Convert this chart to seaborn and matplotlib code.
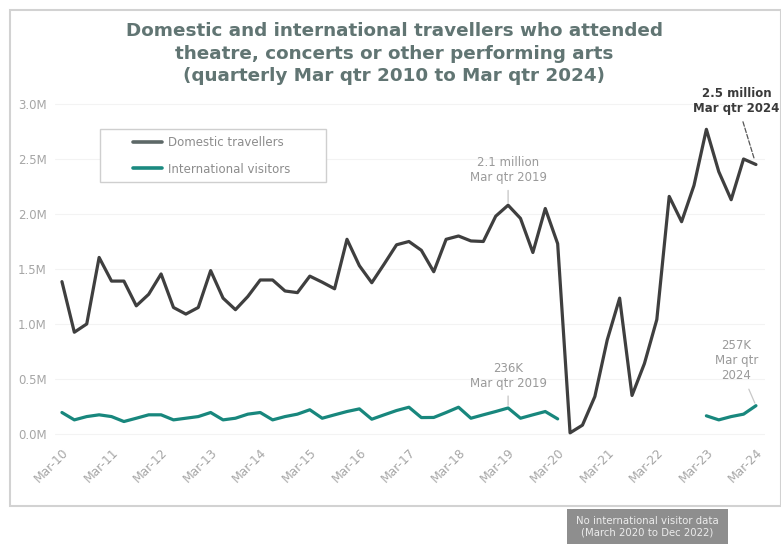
import numpy as np
import pandas as pd
import matplotlib
matplotlib.use("Agg")
import matplotlib.pyplot as plt
from matplotlib.patches import Rectangle
from matplotlib.lines import Line2D
import seaborn as sns

# ---------------- data ----------------
tick_labels = ["Mar-10", "Mar-11", "Mar-12", "Mar-13", "Mar-14", "Mar-15", "Mar-16",
               "Mar-17", "Mar-18", "Mar-19", "Mar-20", "Mar-21", "Mar-22", "Mar-23", "Mar-24"]

domestic = [1.385, 0.925, 1.00, 1.605,
            1.39, 1.39, 1.165, 1.27,
            1.455, 1.15, 1.09, 1.15,
            1.485, 1.235, 1.13, 1.25,
            1.40, 1.40, 1.30, 1.285,
            1.435, 1.38, 1.32, 1.77,
            1.53, 1.375, 1.545, 1.72,
            1.75, 1.67, 1.475, 1.77,
            1.80, 1.755, 1.75, 1.98,
            2.08, 1.96, 1.65, 2.05,
            1.73, 0.01, 0.08, 0.34,
            0.855, 1.235, 0.35, 0.64,
            1.04, 2.16, 1.93, 2.26,
            2.77, 2.385, 2.13, 2.50,
            2.45]

international = [0.195, 0.128, 0.158, 0.174,
                 0.158, 0.113, 0.143, 0.174,
                 0.174, 0.128, 0.143, 0.158,
                 0.195, 0.128, 0.143, 0.180,
                 0.195, 0.128, 0.158, 0.180,
                 0.220, 0.143, 0.174, 0.204,
                 0.228, 0.134, 0.174, 0.213,
                 0.243, 0.149, 0.150, 0.195,
                 0.243, 0.143, 0.174, 0.204,
                 0.236, 0.143, 0.174, 0.204,
                 0.137, None, None, None,
                 None, None, None, None,
                 None, None, None, None,
                 0.165, 0.128, 0.158, 0.180,
                 0.257]

series_names = ["Domestic travellers", "International visitors"]
colors = {"Domestic travellers": "#3f3f3f", "International visitors": "#18877d"}

# ---------------- build table ----------------
rows = []
for name, vals in zip(series_names, [domestic, international]):
    seg = 0
    prev_nan = False
    for i, v in enumerate(vals):
        if v is None:
            prev_nan = True
            continue
        if prev_nan:
            seg += 1
            prev_nan = False
        rows.append({"q": i, "value": v, "series": name, "seg": f"{name}-{seg}"})
df = pd.DataFrame(rows)

# ---------------- figure ----------------
sns.set_theme(style="white")
plt.rcParams["font.family"] = ["DejaVu Sans"]

W, H = 781, 544
fig = plt.figure(figsize=(W / 100, H / 100), dpi=100)
fig.patch.set_facecolor("white")

ax = fig.add_axes([55 / W, 104 / H, 710 / W, 344 / H])
sns.lineplot(data=df, x="q", y="value", hue="series", units="seg", estimator=None,
             palette=colors, linewidth=2.3, ax=ax, legend=False, sort=True)

ax.set_xlim(-0.56, 56.73)
ax.set_ylim(-0.055, 3.073)
ax.set_xticks(np.arange(0, 57, 4))
ax.set_xticklabels(tick_labels, rotation=45, ha="right", rotation_mode="anchor")
ax.set_yticks([0, 0.5, 1.0, 1.5, 2.0, 2.5, 3.0])
ax.set_yticklabels(["0.0M", "0.5M", "1.0M", "1.5M", "2.0M", "2.5M", "3.0M"])
ax.tick_params(axis="x", length=0, pad=4, labelsize=8.8, labelcolor="#a6a6a6")
ax.tick_params(axis="y", length=0, pad=6, labelsize=8.5, labelcolor="#a6a6a6")
ax.set_xlabel("")
ax.set_ylabel("")
for s in ax.spines.values():
    s.set_visible(False)
ax.grid(axis="y", color="#f3f3f3", linewidth=0.8)
ax.set_axisbelow(True)

# legend (frame drawn separately for its wide side padding)
ax.add_patch(Rectangle(((100 - 55) / 710, 1 - (182 - 96) / 344), 226 / 710, 53 / 344,
                       transform=ax.transAxes, fill=True, fc="white", ec="#cfcfcf",
                       lw=1.0, zorder=4))
handles = [Line2D([], [], color="#5d6867", lw=2.6),
           Line2D([], [], color="#1b8a80", lw=2.6)]
leg = ax.legend(handles, series_names, loc="upper left",
                bbox_to_anchor=((133 - 55) / 710, 1 - (136 - 96) / 344),
                frameon=False, fontsize=8.5, handlelength=2.45,
                labelspacing=1.15, borderpad=0, handletextpad=0.5, borderaxespad=0)
leg.set_zorder(5)
for t in leg.get_texts():
    t.set_color("#8c8c8c")

# annotations
grey = "#9a9a9a"
ax.annotate("2.1 million\nMar qtr 2019", xy=(36, domestic[36]), xytext=(0, 15),
            textcoords="offset points", ha="center", va="bottom", fontsize=8.5, color=grey,
            arrowprops=dict(arrowstyle="-", color="#c4c4c4", lw=0.9, shrinkA=2, shrinkB=2))
ax.annotate("236K\nMar qtr 2019", xy=(36, international[36]), xytext=(0, 13),
            textcoords="offset points", ha="center", va="bottom", fontsize=8.5, color=grey,
            arrowprops=dict(arrowstyle="-", color="#c4c4c4", lw=0.9, shrinkA=2, shrinkB=2))
ax.annotate("2.5 million\nMar qtr 2024", xy=(56, domestic[56]), xytext=(-14, 36),
            textcoords="offset points", ha="center", va="bottom", fontsize=8.5,
            color="#3a3a3a", fontweight="bold",
            arrowprops=dict(arrowstyle="-", color="#555555", lw=0.9, ls="--",
                            shrinkA=3, shrinkB=4))
ax.annotate("257K\nMar qtr\n2024", xy=(56, international[56]), xytext=(-14, 17),
            textcoords="offset points", ha="center", va="bottom", fontsize=8.5, color=grey,
            arrowprops=dict(arrowstyle="-", color="#c8c8c8", lw=0.9, shrinkA=3, shrinkB=2))

# title
fig.text(394 / W, 1 - 22 / H,
         "Domestic and international travellers who attended\n"
         "theatre, concerts or other performing arts\n"
         "(quarterly Mar qtr 2010 to Mar qtr 2024)",
         ha="center", va="top", fontsize=13.2, fontweight="bold", color="#617573",
         linespacing=1.33)

# outer frame
fig.add_artist(Rectangle((10 / W, 1 - 506 / H), (W - 10) / W, (506 - 10) / H,
                         transform=fig.transFigure, fill=False, ec="#d2d2d2", lw=1.5))

# bottom note box
fig.add_artist(Rectangle((567 / W, 0), (728 - 567) / W, (544 - 509) / H,
                         transform=fig.transFigure, fc="#8e8e8e", ec="none"))
fig.text(647 / W, 1 - 527 / H, "No international visitor data\n(March 2020 to Dec 2022)",
         ha="center", va="center", fontsize=7.3, color="#ececec", linespacing=1.2)

fig.savefig("out.png", dpi=100)
